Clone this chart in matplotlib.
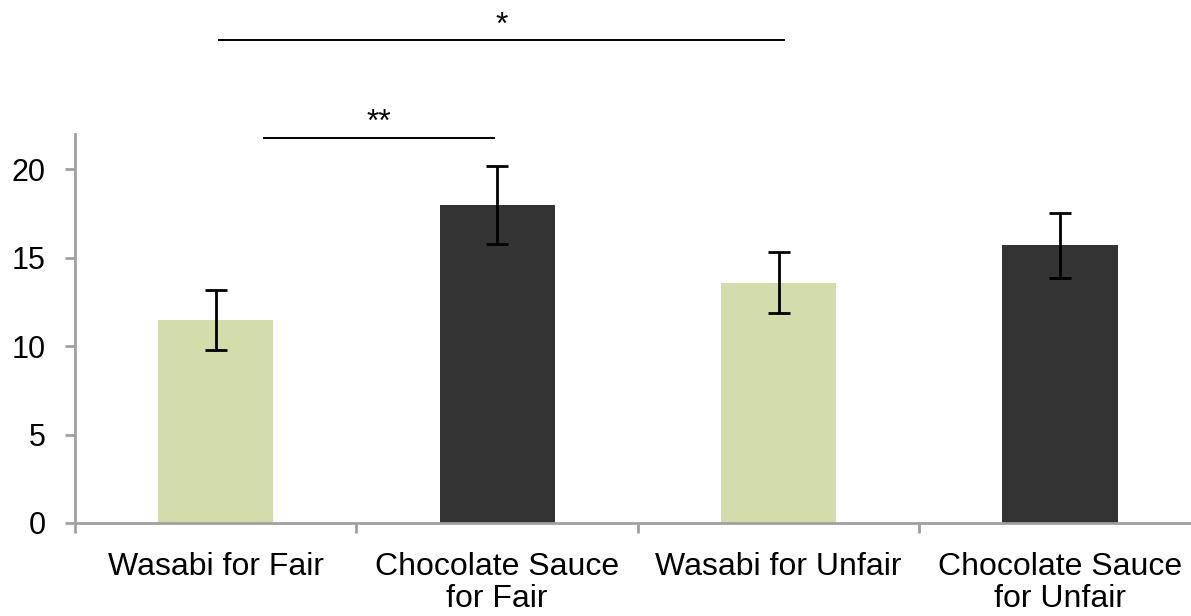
import matplotlib
matplotlib.use('Agg')
import matplotlib.pyplot as plt
import numpy as np

plt.rcParams['font.family'] = ['Liberation Sans', 'DejaVu Sans']

# condition means and error bars
labels = ['Wasabi for Fair', 'Chocolate Sauce\nfor Fair',
          'Wasabi for Unfair', 'Chocolate Sauce\nfor Unfair']
means = [11.5, 18.0, 13.6, 15.7]
errors = [1.7, 2.2, 1.7, 1.85]
bar_colors = ['#d3dcab', '#333333', '#d3dcab', '#333333']

# significance brackets: (x start, x end, height, label)
sig_x0 = [0.01, 0.17]
sig_x1 = [2.02, 0.99]
sig_y = [27.3, 21.8]
sig_text = ['*', '**']

fig = plt.figure(figsize=(11.91, 6.16), dpi=100)
ax = fig.add_axes([0.063, 0.151, 0.937, 0.6315])

x = np.arange(len(means))
ax.bar(x, means, width=0.41, color=bar_colors, zorder=2)
ax.errorbar(x, means, yerr=errors, fmt='none', ecolor='black',
            elinewidth=2, capsize=8, capthick=2, zorder=3)

ax.set_xlim(-0.5, 3.465)
ax.set_ylim(0, 22)
ax.set_yticks([0, 5, 10, 15, 20])

# category labels centred, tick marks on the boundaries
ax.set_xticks(x)
ax.set_xticklabels(labels, fontsize=23, linespacing=1.1)
ax.set_xticks([-0.5, 0.5, 1.5, 2.5], minor=True)
ax.tick_params(axis='x', which='major', length=0, pad=21)
ax.tick_params(axis='x', which='minor', length=7, width=2, color='#a0a0a0')
ax.tick_params(axis='y', length=7, width=2, color='#a0a0a0', pad=14,
               labelsize=22)

for side in ['top', 'right']:
    ax.spines[side].set_visible(False)
for side in ['left', 'bottom']:
    ax.spines[side].set_color('#a0a0a0')
    ax.spines[side].set_linewidth(2)

# significance markers above the bars
for x0, x1, y, t in zip(sig_x0, sig_x1, sig_y, sig_text):
    ax.plot([x0, x1], [y, y], color='black', lw=1.4, clip_on=False)
    ax.text((x0 + x1) / 2, y - 0.05, t, ha='center', va='bottom',
            fontsize=23, clip_on=False)

fig.savefig('out.png', dpi=100)
